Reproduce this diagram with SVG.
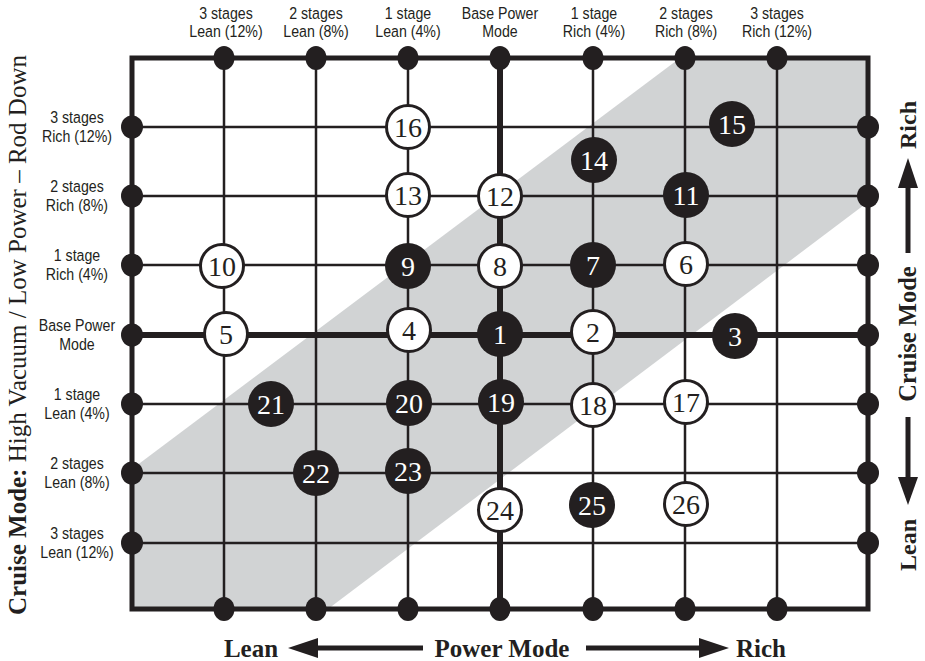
<svg xmlns="http://www.w3.org/2000/svg" width="925" height="661" viewBox="0 0 925 661">
<style>
.lbl{font-family:"Liberation Sans",Arial,sans-serif;font-size:16.5px;fill:#231f20;text-anchor:middle}
.num{font-family:"Liberation Serif","Times New Roman",serif;font-size:28px;text-anchor:middle}
.nb circle{fill:#231f20}
.nb text{fill:#ffffff}
.nw circle{fill:#ffffff;stroke:#231f20;stroke-width:3}
.nw text{fill:#231f20}
.thin{stroke:#231f20;stroke-width:2.5;fill:none}
.thick{stroke:#231f20;stroke-width:6;fill:none}
.dot{fill:#231f20}
.ttl{font-family:"Liberation Serif","Times New Roman",serif;fill:#231f20}
.b{font-weight:bold}
</style>
<rect width="925" height="661" fill="#ffffff"/>
<polygon points="680,58 868,58 868,202 328,609 132,609 132,469" fill="#d1d3d4"/>
<g id="connectors">
<line class="thin" x1="132" y1="127" x2="868" y2="127"/>
<line class="thin" x1="132" y1="196" x2="868" y2="196"/>
<line class="thin" x1="132" y1="265" x2="868" y2="265"/>
<line class="thick" x1="132" y1="335" x2="868" y2="335"/>
<line class="thin" x1="132" y1="404" x2="868" y2="404"/>
<line class="thin" x1="132" y1="473" x2="868" y2="473"/>
<line class="thin" x1="132" y1="543" x2="868" y2="543"/>
<line class="thin" x1="224" y1="58" x2="224" y2="609"/>
<line class="thin" x1="316" y1="58" x2="316" y2="609"/>
<line class="thin" x1="408" y1="58" x2="408" y2="609"/>
<line class="thick" x1="500" y1="58" x2="500" y2="609"/>
<line class="thin" x1="593" y1="58" x2="593" y2="609"/>
<line class="thin" x1="685" y1="58" x2="685" y2="609"/>
<line class="thin" x1="777" y1="58" x2="777" y2="609"/>
<rect x="132" y="58" width="736" height="551" fill="none" stroke="#231f20" stroke-width="5"/>
<g class="dot">
<ellipse cx="224" cy="58" rx="10.5" ry="12"/><ellipse cx="316" cy="58" rx="10.5" ry="12"/><ellipse cx="408" cy="58" rx="10.5" ry="12"/><ellipse cx="500" cy="58" rx="10.5" ry="12"/><ellipse cx="593" cy="58" rx="10.5" ry="12"/><ellipse cx="685" cy="58" rx="10.5" ry="12"/><ellipse cx="777" cy="58" rx="10.5" ry="12"/>
<ellipse cx="224" cy="609" rx="10.5" ry="12"/><ellipse cx="316" cy="609" rx="10.5" ry="12"/><ellipse cx="408" cy="609" rx="10.5" ry="12"/><ellipse cx="500" cy="609" rx="10.5" ry="12"/><ellipse cx="593" cy="609" rx="10.5" ry="12"/><ellipse cx="685" cy="609" rx="10.5" ry="12"/><ellipse cx="777" cy="609" rx="10.5" ry="12"/>
<ellipse cx="132" cy="127" rx="11" ry="11.5"/><ellipse cx="132" cy="196" rx="11" ry="11.5"/><ellipse cx="132" cy="265" rx="11" ry="11.5"/><ellipse cx="132" cy="335" rx="11" ry="11.5"/><ellipse cx="132" cy="404" rx="11" ry="11.5"/><ellipse cx="132" cy="473" rx="11" ry="11.5"/><ellipse cx="132" cy="543" rx="11" ry="11.5"/>
<ellipse cx="868" cy="127" rx="11" ry="11.5"/><ellipse cx="868" cy="196" rx="11" ry="11.5"/><ellipse cx="868" cy="265" rx="11" ry="11.5"/><ellipse cx="868" cy="335" rx="11" ry="11.5"/><ellipse cx="868" cy="404" rx="11" ry="11.5"/><ellipse cx="868" cy="473" rx="11" ry="11.5"/><ellipse cx="868" cy="543" rx="11" ry="11.5"/>
</g>
</g>
<g id="top-labels" transform="scale(0.86,1)">
<text class="lbl" x="262.8" y="19">3 stages</text><text class="lbl" x="262.8" y="37">Lean (12%)</text>
<text class="lbl" x="367.4" y="19">2 stages</text><text class="lbl" x="367.4" y="37">Lean (8%)</text>
<text class="lbl" x="474.4" y="19">1 stage</text><text class="lbl" x="474.4" y="37">Lean (4%)</text>
<text class="lbl" x="581.4" y="19">Base Power</text><text class="lbl" x="581.4" y="37">Mode</text>
<text class="lbl" x="690.7" y="19">1 stage</text><text class="lbl" x="690.7" y="37">Rich (4%)</text>
<text class="lbl" x="797.7" y="19">2 stages</text><text class="lbl" x="797.7" y="37">Rich (8%)</text>
<text class="lbl" x="903.5" y="19">3 stages</text><text class="lbl" x="903.5" y="37">Rich (12%)</text>
</g>
<g id="left-labels" transform="scale(0.86,1)">
<text class="lbl" x="89.5" y="123">3 stages</text><text class="lbl" x="89.5" y="142">Rich (12%)</text>
<text class="lbl" x="89.5" y="192">2 stages</text><text class="lbl" x="89.5" y="211">Rich (8%)</text>
<text class="lbl" x="89.5" y="261">1 stage</text><text class="lbl" x="89.5" y="280">Rich (4%)</text>
<text class="lbl" x="89.5" y="331">Base Power</text><text class="lbl" x="89.5" y="350">Mode</text>
<text class="lbl" x="89.5" y="400">1 stage</text><text class="lbl" x="89.5" y="419">Lean (4%)</text>
<text class="lbl" x="89.5" y="469">2 stages</text><text class="lbl" x="89.5" y="488">Lean (8%)</text>
<text class="lbl" x="89.5" y="539">3 stages</text><text class="lbl" x="89.5" y="558">Lean (12%)</text>
</g>
<g id="node-1" class="nb"><circle cx="500" cy="334" r="23"/><text class="num" x="500" y="344">1</text></g>
<g id="node-2" class="nw"><circle cx="593" cy="332" r="21.5"/><text class="num" x="593" y="342">2</text></g>
<g id="node-3" class="nb"><circle cx="735" cy="336" r="23"/><text class="num" x="735" y="346">3</text></g>
<g id="node-4" class="nw"><circle cx="409" cy="330" r="21.5"/><text class="num" x="409" y="340">4</text></g>
<g id="node-5" class="nw"><circle cx="226" cy="334" r="21.5"/><text class="num" x="226" y="344">5</text></g>
<g id="node-6" class="nw"><circle cx="686" cy="264" r="21.5"/><text class="num" x="686" y="274">6</text></g>
<g id="node-7" class="nb"><circle cx="593" cy="265" r="23"/><text class="num" x="593" y="275">7</text></g>
<g id="node-8" class="nw"><circle cx="500" cy="266" r="21.5"/><text class="num" x="500" y="276">8</text></g>
<g id="node-9" class="nb"><circle cx="408" cy="266" r="23"/><text class="num" x="408" y="276">9</text></g>
<g id="node-10" class="nw"><circle cx="222" cy="266" r="21.5"/><text class="num" x="222" y="276">10</text></g>
<g id="node-11" class="nb"><circle cx="686" cy="195" r="23"/><text class="num" x="686" y="205">11</text></g>
<g id="node-12" class="nw"><circle cx="500" cy="196" r="21.5"/><text class="num" x="500" y="206">12</text></g>
<g id="node-13" class="nw"><circle cx="408" cy="195" r="21.5"/><text class="num" x="408" y="205">13</text></g>
<g id="node-14" class="nb"><circle cx="594" cy="160" r="23"/><text class="num" x="594" y="170">14</text></g>
<g id="node-15" class="nb"><circle cx="732" cy="124" r="23"/><text class="num" x="732" y="134">15</text></g>
<g id="node-16" class="nw"><circle cx="408" cy="127" r="21.5"/><text class="num" x="408" y="137">16</text></g>
<g id="node-17" class="nw"><circle cx="686" cy="402" r="21.5"/><text class="num" x="686" y="412">17</text></g>
<g id="node-18" class="nw"><circle cx="593" cy="405" r="21.5"/><text class="num" x="593" y="415">18</text></g>
<g id="node-19" class="nb"><circle cx="501" cy="402" r="23"/><text class="num" x="501" y="412">19</text></g>
<g id="node-20" class="nb"><circle cx="409" cy="403" r="23"/><text class="num" x="409" y="413">20</text></g>
<g id="node-21" class="nb"><circle cx="271" cy="404" r="23"/><text class="num" x="271" y="414">21</text></g>
<g id="node-22" class="nb"><circle cx="316" cy="473" r="23"/><text class="num" x="316" y="483">22</text></g>
<g id="node-23" class="nb"><circle cx="408" cy="471" r="23"/><text class="num" x="408" y="481">23</text></g>
<g id="node-24" class="nw"><circle cx="500" cy="510" r="21.5"/><text class="num" x="500" y="520">24</text></g>
<g id="node-25" class="nb"><circle cx="592" cy="505" r="23"/><text class="num" x="592" y="515">25</text></g>
<g id="node-26" class="nw"><circle cx="686" cy="504" r="21.5"/><text class="num" x="686" y="514">26</text></g>
<g id="axis-titles">
<text class="ttl" font-size="25" text-anchor="middle" transform="translate(26,335) rotate(-90)"><tspan class="b">Cruise Mode:</tspan> High Vacuum / Low Power – Rod Down</text>
<text class="ttl b" font-size="24" text-anchor="middle" transform="translate(916,125) rotate(-90)">Rich</text>
<text class="ttl b" font-size="24.5" text-anchor="middle" transform="translate(916,334) rotate(-90)">Cruise Mode</text>
<text class="ttl b" font-size="24" text-anchor="middle" transform="translate(916,545) rotate(-90)">Lean</text>
<polygon points="908,158 898,188 918,188" fill="#231f20"/>
<line x1="908" y1="186" x2="908" y2="253" stroke="#231f20" stroke-width="5"/>
<polygon points="908,505 898,477 918,477" fill="#231f20"/>
<line x1="908" y1="417" x2="908" y2="479" stroke="#231f20" stroke-width="5"/>
<text class="ttl b" font-size="25" text-anchor="middle" x="251" y="657">Lean</text>
<text class="ttl b" font-size="25" text-anchor="middle" x="502" y="657">Power Mode</text>
<text class="ttl b" font-size="25" text-anchor="middle" x="761" y="657">Rich</text>
<polygon points="288,648 318,638 318,658" fill="#231f20"/>
<line x1="316" y1="648" x2="423" y2="648" stroke="#231f20" stroke-width="5"/>
<polygon points="729,648 699,638 699,658" fill="#231f20"/>
<line x1="586" y1="648" x2="701" y2="648" stroke="#231f20" stroke-width="5"/>
</g>
</svg>
